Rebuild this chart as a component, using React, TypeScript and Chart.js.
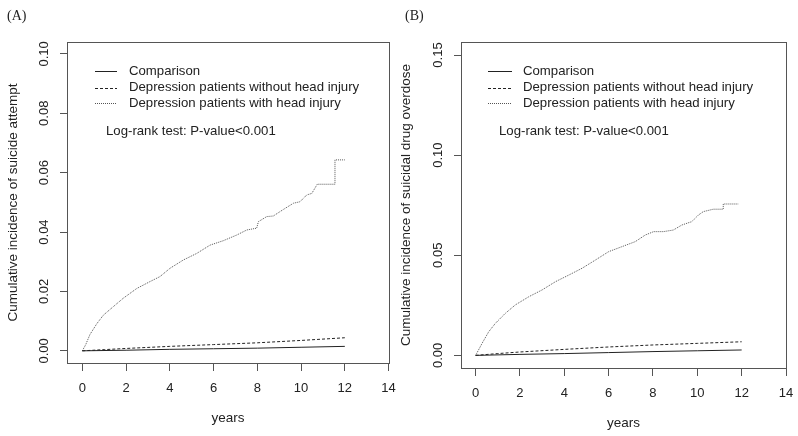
import React, { useEffect, useRef } from 'react';
import { Chart, registerables } from 'chart.js';

Chart.register(...registerables);

// ---------- data ----------
const seriesLabels = [
  'Comparison',
  'Depression patients without head injury',
  'Depression patients with head injury',
];
const xTicks = [0, 2, 4, 6, 8, 10, 12, 14];
const yTicksA = [0, 0.02, 0.04, 0.06, 0.08, 0.1];
const yTicksB = [0, 0.05, 0.1, 0.15];

// Panel A: suicide attempt
const aCompX = [0, 2, 4, 6, 8, 10, 12];
const aCompY = [0, 0.0002, 0.0005, 0.0007, 0.0009, 0.0012, 0.0015];
const aNoHeadX = [0, 1, 2, 4, 6, 8, 10, 12];
const aNoHeadY = [0, 0.0004, 0.0008, 0.0015, 0.0021, 0.0027, 0.0035, 0.0044];
const aHeadX = [0, 0.15, 0.35, 0.66, 0.96, 1.42, 1.87, 2.49, 3.09, 3.55, 4.01, 4.62, 5.23, 5.84, 6.45, 7.06, 7.52, 7.97, 8.05, 8.43, 8.73, 9.19, 9.65, 9.95, 10.26, 10.49, 10.74, 11.55, 11.55, 12.0];
const aHeadY = [0, 0.002, 0.0055, 0.0091, 0.012, 0.0149, 0.0177, 0.021, 0.0233, 0.025, 0.0278, 0.0306, 0.0328, 0.0356, 0.0371, 0.039, 0.0407, 0.0413, 0.0435, 0.0452, 0.0454, 0.0476, 0.0497, 0.0502, 0.0525, 0.053, 0.0561, 0.0561, 0.0643, 0.0643];

// Panel B: suicidal drug overdose
const bCompX = [0, 2, 4, 6, 8, 10, 12];
const bCompY = [0, 0.0005, 0.0009, 0.0014, 0.0019, 0.0023, 0.0027];
const bNoHeadX = [0, 1, 2, 4, 6, 8, 10, 12];
const bNoHeadY = [0, 0.0009, 0.0017, 0.003, 0.0042, 0.0052, 0.006, 0.0068];
const bHeadX = [0, 0.29, 0.59, 0.89, 1.34, 1.79, 2.4, 3.0, 3.6, 4.2, 4.8, 5.4, 6.0, 6.6, 7.2, 7.65, 8.03, 8.47, 8.92, 9.3, 9.75, 10.05, 10.27, 10.72, 11.17, 11.17, 11.86];
const bHeadY = [0, 0.006, 0.0118, 0.016, 0.021, 0.0252, 0.0293, 0.0327, 0.0368, 0.0401, 0.0435, 0.0476, 0.0518, 0.0543, 0.0568, 0.0601, 0.0618, 0.0618, 0.0626, 0.0651, 0.0668, 0.0701, 0.0718, 0.073, 0.073, 0.0756, 0.0756];

const noteText = 'Log-rank test: P-value<0.001';

// ---------- styling ----------
const FONT = "'Liberation Sans', Arial, Helvetica, sans-serif";
const SERIF = "'Liberation Serif', 'Times New Roman', serif";
const TEXT = '#222';
const AXIS = '#555';

const pts = (xs: number[], ys: number[]) => xs.map((x, i) => ({ x, y: ys[i] }));

const framePlugin = {
  id: 'frame',
  beforeDatasetsDraw(chart: any) {
    const { ctx, chartArea: a } = chart;
    ctx.save();
    ctx.strokeStyle = AXIS;
    ctx.lineWidth = 1;
    ctx.setLineDash([]);
    ctx.strokeRect(Math.round(a.left) + 0.5, Math.round(a.top) + 0.5, Math.round(a.right - a.left), Math.round(a.bottom - a.top));
    ctx.restore();
  },
};

const kmLegendPlugin = {
  id: 'kmLegend',
  afterDraw(chart: any, _args: any, o: any) {
    const { ctx, chartArea: a } = chart;
    ctx.save();
    ctx.font = `${o.fontSize}px ${FONT}`;
    ctx.textBaseline = 'middle';
    ctx.textAlign = 'left';
    ctx.fillStyle = TEXT;
    chart.data.datasets.forEach((ds: any, i: number) => {
      const y = a.top + o.rowY[i];
      const ly = Math.round(y) + 0.5;
      ctx.beginPath();
      ctx.setLineDash(ds.borderDash || []);
      ctx.strokeStyle = ds.borderColor;
      ctx.lineWidth = 1;
      ctx.moveTo(a.left + o.lineX0, ly);
      ctx.lineTo(a.left + o.lineX1, ly);
      ctx.stroke();
      ctx.setLineDash([]);
      ctx.fillText(ds.label, a.left + o.textX, y);
    });
    ctx.fillText(o.note, a.left + o.noteX, a.top + o.noteY);
    ctx.restore();
  },
};

type PanelCfg = {
  panel: string;
  yTitle: string;
  yTicks: number[];
  xMin: number; xMax: number; yMin: number; yMax: number;
  comp: { x: number }[] | any; noHead: any; head: any;
  padRight: number; yAxisWidth: number; xAxisHeight: number;
  yTickPad: number; yTitlePad: number; xTickPad: number; xTitlePad: number;
  legend: any;
};

function makeConfig(c: PanelCfg): any {
  return {
    type: 'line',
    data: {
      datasets: [
        { label: seriesLabels[0], data: c.comp, borderColor: '#222', borderWidth: 1, borderDash: [], pointRadius: 0, tension: 0, fill: false },
        { label: seriesLabels[1], data: c.noHead, borderColor: '#222', borderWidth: 1, borderDash: [3, 2], pointRadius: 0, tension: 0, fill: false },
        { label: seriesLabels[2], data: c.head, borderColor: '#555', borderWidth: 1, borderDash: [1, 1], pointRadius: 0, tension: 0, fill: false },
      ],
    },
    plugins: [framePlugin, kmLegendPlugin],
    options: {
      responsive: false,
      maintainAspectRatio: false,
      animation: false,
      devicePixelRatio: 1,
      events: [],
      layout: { padding: { left: 7, right: c.padRight, top: 0, bottom: 0 } },
      plugins: {
        legend: { display: false },
        tooltip: { enabled: false },
        title: {
          display: true,
          text: c.panel,
          align: 'start',
          color: TEXT,
          font: { family: SERIF, size: 14, weight: 'normal', lineHeight: 1.2 },
          padding: { top: 8.3, bottom: 16.9 },
        },
        kmLegend: c.legend,
      },
      scales: {
        x: {
          type: 'linear',
          min: c.xMin,
          max: c.xMax,
          bounds: 'data',
          afterBuildTicks: (s: any) => { s.ticks = xTicks.map((v) => ({ value: v })); },
          afterFit: (s: any) => { s.height = c.xAxisHeight; s.paddingLeft = 0; s.paddingRight = 0; },
          ticks: { autoSkip: false, maxRotation: 0, minRotation: 0, padding: c.xTickPad, color: TEXT, font: { family: FONT, size: 13 }, callback: (v: any) => String(v) },
          grid: { drawOnChartArea: false, drawTicks: true, tickLength: 8, color: AXIS, lineWidth: 1 },
          border: { display: false },
          title: { display: true, text: 'years', color: TEXT, font: { family: FONT, size: 13.5, lineHeight: 1.2 }, padding: { top: 0, bottom: c.xTitlePad } },
        },
        y: {
          type: 'linear',
          min: c.yMin,
          max: c.yMax,
          bounds: 'data',
          afterBuildTicks: (s: any) => { s.ticks = c.yTicks.map((v) => ({ value: v })); },
          afterFit: (s: any) => { s.width = c.yAxisWidth; s.paddingTop = 0; s.paddingBottom = 0; },
          ticks: { autoSkip: false, minRotation: 90, maxRotation: 90, crossAlign: 'center', padding: c.yTickPad, color: TEXT, font: { family: FONT, size: 13 }, callback: (v: any) => Number(v).toFixed(2) },
          grid: { drawOnChartArea: false, drawTicks: true, tickLength: 7, color: AXIS, lineWidth: 1 },
          border: { display: false },
          title: { display: true, text: c.yTitle, color: TEXT, font: { family: FONT, size: 13.5, lineHeight: 1 }, padding: { top: c.yTitlePad, bottom: 0 } },
        },
      },
    },
  };
}

const panelA: PanelCfg = {
  panel: '(A)',
  yTitle: 'Cumulative incidence of suicide attempt',
  yTicks: yTicksA,
  xMin: -0.7, xMax: 14.02, yMin: -0.0041, yMax: 0.104,
  comp: pts(aCompX, aCompY), noHead: pts(aNoHeadX, aNoHeadY), head: pts(aHeadX, aHeadY),
  padRight: 9, yAxisWidth: 60, xAxisHeight: 73,
  yTickPad: 2.65, yTitlePad: -0.75, xTickPad: 9.2, xTitlePad: 9.9,
  legend: { fontSize: 13.2, rowY: [29.3, 45.7, 61], lineX0: 28, lineX1: 50, textX: 62, noteX: 39, noteY: 89, note: noteText },
};

const panelB: PanelCfg = {
  panel: '(B)',
  yTitle: 'Cumulative incidence of suicidal drug overdose',
  yTicks: yTicksB,
  xMin: -0.66, xMax: 14.0, yMin: -0.0063, yMax: 0.1565,
  comp: pts(bCompX, bCompY), noHead: pts(bNoHeadX, bNoHeadY), head: pts(bHeadX, bHeadY),
  padRight: 12, yAxisWidth: 56, xAxisHeight: 68,
  yTickPad: 3.35, yTitlePad: -5.75, xTickPad: 9.5, xTitlePad: 4.9,
  legend: { fontSize: 13.2, rowY: [29.3, 45.7, 61.3], lineX0: 27, lineX1: 51, textX: 62, noteX: 38, noteY: 89.7, note: noteText },
};

function Panel({ cfg, left, width }: { cfg: PanelCfg; left: number; width: number }) {
  const ref = useRef<HTMLCanvasElement | null>(null);
  useEffect(() => {
    if (!ref.current) return;
    const chart = new Chart(ref.current, makeConfig(cfg));
    return () => chart.destroy();
  }, [cfg]);
  return (
    <canvas
      ref={ref}
      width={width}
      height={436}
      style={{ position: 'absolute', left, top: 0, width, height: 436 }}
    />
  );
}

export default function App() {
  return (
    <div style={{ position: 'fixed', left: 0, top: 0, width: 798, height: 436, background: '#fff', overflow: 'hidden' }}>
      <Panel cfg={panelA} left={0} width={398} />
      <Panel cfg={panelB} left={398} width={400} />
    </div>
  );
}
